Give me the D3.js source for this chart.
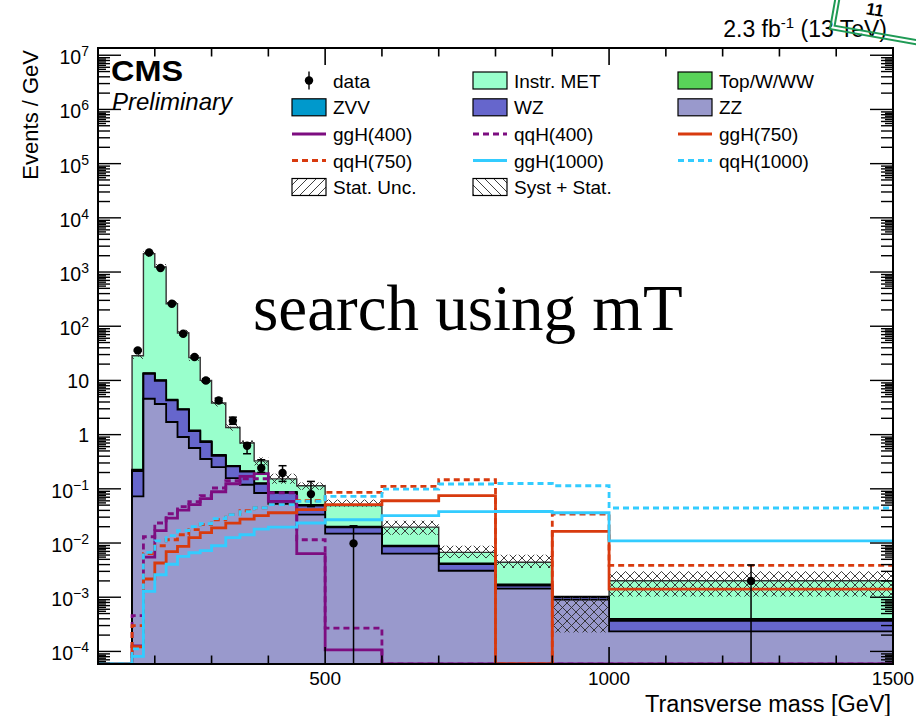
<!DOCTYPE html>
<html>
<head>
<meta charset="utf-8">
<script src="https://cdn.jsdelivr.net/npm/d3@7"></script>
<style>
  html, body { margin: 0; padding: 0; background: #fff; }
  svg { display: block; font-family: "Liberation Sans", Arial, Helvetica, sans-serif; }
</style>
</head>
<body>
<svg id="chart" width="916" height="716"></svg>
<script>
// ---- binning (GeV) ----
const binEdges = [160, 180, 200, 220, 240, 260, 280, 300, 325, 350, 375, 400, 450, 500, 600, 700, 800, 900, 1000, 1500];

// ---- stacked backgrounds, events / GeV (bottom to top) ----
const zz       = [0.0724, 4.59, 3.67, 1.71, 0.904, 0.566, 0.355, 0.252, 0.158, 0.119, 0.0838, 0.0531, 0.0333, 0.0149, 0.00635, 0.00308, 0.00144, 0.0009, 0.000234];
const wz       = [0.139, 8.7, 6.2, 2.57, 1.98, 0.59, 0.375, 0.156, 0.101, 0.088, 0.040, 0.0316, 0.0155, 0.0045, 0.0023, 0.001, 0.0002, 0.0001, 0.000134];
const zvv      = [0.002, 0.05, 0.04, 0.02, 0.012, 0.006, 0.004, 0.003, 0.002, 0.0015, 0.001, 0.0008, 0.0005, 0.0002, 0.0001, 0.00005, 0.00003, 0.00001, 0.00001];
const topWWW   = [0.012, 0.3, 0.25, 0.1, 0.05, 0.03, 0.02, 0.01, 0.005, 0.004, 0.003, 0.002, 0.001, 0.0005, 0.0002, 0.0001, 0.00005, 0.00001, 0.00002];
const instrMET = [28.37, 2164, 1226, 255.6, 72.1, 25.3, 9.25, 3.41, 1.09, 0.49, 0.20, 0.065, 0.064, 0.029, 0.0107, 0.0025, 0.0027, 0, 0.00161];

// ---- observed data ----
const dataVal = [35.8, 2300, 1186, 260, 72.8, 27, 10, 4.27, 1.80, 0.624, 0.242, 0.196, 0.080, 0.00984, 0, 0, 0, 0, 0.002];
const dataLo  = [34.5, 2270, 1165, 251, 69, 25.5, 9.3, 3.9, 1.55, 0.444, 0.201, 0.137, 0.047, 0, 0, 0, 0, 0, 0];
const dataHi  = [37.2, 2330, 1210, 270, 77, 28.5, 10.7, 4.7, 2.1, 0.70, 0.344, 0.267, 0.137, 0.0208, 0, 0, 0, 0, 0.00393];

// ---- uncertainty bands ----
const statLo = [27.5, 2120, 1200, 252, 72.5, 25.7, 9.7, 3.7, 1.31, 0.62, 0.27, 0.124, 0.096, 0.0468, 0.0142, 0.00528, 0.00346, 0.000224, 0.00103];
const statHi = [29.7, 2240, 1270, 268, 77.5, 27.3, 10.3, 3.95, 1.41, 0.78, 0.38, 0.19, 0.131, 0.0629, 0.0258, 0.00891, 0.00608, 0.00102, 0.00299];
const systLo = [25, 1900, 1080, 225, 65, 23, 8.7, 3.3, 1.18, 0.62, 0.27, 0.124, 0.096, 0.0468, 0.0142, 0.00528, 0.00346, 0.000224, 0.00103];
const systHi = [33, 2500, 1400, 300, 86, 30.5, 11.5, 4.4, 1.56, 0.78, 0.38, 0.19, 0.131, 0.0629, 0.0258, 0.00891, 0.00608, 0.00102, 0.00299];

// ---- signal hypotheses ----
const ggH400  = [1.27e-4, 0.00547, 0.01687, 0.0289, 0.0403, 0.0509, 0.0657, 0.0883, 0.124, 0.169, 0.190, 0.0586, 0.00635, 1.07e-4, 0, 0, 0, 0, 0];
const qqH400  = [4.56e-4, 0.01306, 0.0234, 0.0347, 0.0468, 0.0578, 0.0746, 0.1035, 0.141, 0.1535, 0.1535, 0.0847, 0.0115, 2.7e-4, 0, 0, 0, 0, 0];
const ggH750  = [1.22e-4, 0.00217, 0.00428, 0.00692, 0.00865, 0.01253, 0.0155, 0.0191, 0.0232, 0.0275, 0.0319, 0.0362, 0.0412, 0.0509, 0.0603, 0.0746, 0, 0.01637, 0.00141];
const qqH750  = [2.98e-4, 0.00635, 0.00891, 0.0115, 0.0142, 0.0176, 0.0218, 0.0269, 0.0333, 0.0394, 0.0448, 0.0509, 0.0603, 0.0859, 0.1107, 0.147, 0, 0.0343, 0.00387];
const ggH1000 = [8.09e-5, 0.00128, 0.0026, 0.00406, 0.00566, 0.00662, 0.00721, 0.00891, 0.01253, 0.0142, 0.0181, 0.0197, 0.0234, 0.0269, 0.0319, 0.0378, 0.0382, 0.0362, 0.0110];
const qqH1000 = [1.11e-4, 0.0067, 0.0110, 0.01364, 0.01687, 0.0200, 0.0227, 0.0281, 0.0333, 0.0378, 0.0448, 0.0509, 0.0586, 0.0724, 0.0991, 0.1227, 0.1254, 0.114, 0.0443];

// ---- axes ----
const xDomain = [100, 1500];
const yDomain = [5.86e-5, 1.36e7];
const xTickLabels = [500, 1000, 1500];
const yTickExponents = [-4, -3, -2, -1, 0, 1, 2, 3, 4, 5, 6, 7];

// ---------------------------------------------------------------
const plot = { left: 98, right: 893, top: 48, bottom: 664 };
const nBins = binEdges.length - 1;

const x = d3.scaleLinear().domain(xDomain).range([plot.left, plot.right]);
const y = d3.scaleLog().domain(yDomain).range([plot.bottom, plot.top]);
const yc = v => y(Math.max(v, yDomain[0]));

const colors = {
  zz: "#9999cc", wz: "#6666cc", zvv: "#0099cc", top: "#59d359", met: "#99ffcc",
  purple: "#7d0d80", orange: "#d83a0e", cyan: "#33ccff"
};

const svg = d3.select("#chart");
const defs = svg.append("defs");
defs.append("clipPath").attr("id", "plotClip")
  .append("rect").attr("x", plot.left).attr("y", plot.top)
  .attr("width", plot.right - plot.left).attr("height", plot.bottom - plot.top);

// hatch fills: forward "///" for stat, backward "\\\" for syst+stat
const hs = 9;
defs.append("pattern").attr("id", "hatchFwd").attr("patternUnits", "userSpaceOnUse")
  .attr("width", hs).attr("height", hs)
  .append("path").attr("d", `M-2,2L2,-2M0,${hs}L${hs},0M${hs-2},${hs+2}L${hs+2},${hs-2}`)
  .attr("stroke", "#2a2a2a").attr("stroke-width", 0.9).attr("fill", "none");
defs.append("pattern").attr("id", "hatchBwd").attr("patternUnits", "userSpaceOnUse")
  .attr("width", hs).attr("height", hs)
  .append("path").attr("d", `M-2,${hs-2}L2,${hs+2}M0,0L${hs},${hs}M${hs-2},-2L${hs+2},2`)
  .attr("stroke", "#2a2a2a").attr("stroke-width", 0.9).attr("fill", "none");

const g = svg.append("g").attr("clip-path", "url(#plotClip)");

// step points: one per bin plus a closing point at the last edge
function stepPoints(vals) {
  const pts = vals.map((v, i) => [binEdges[i], v]);
  pts.push([binEdges[nBins], vals[nBins - 1]]);
  return pts;
}

// ---- stacked background ----
const layers = [
  { vals: zz, fill: colors.zz },
  { vals: wz, fill: colors.wz },
  { vals: zvv, fill: colors.zvv },
  { vals: topWWW, fill: colors.top },
  { vals: instrMET, fill: colors.met }
];
let running = new Array(nBins).fill(0);
layers.forEach(l => {
  running = running.map((c, i) => c + l.vals[i]);
  l.cum = running.slice();
});

const stackArea = d3.area()
  .x(d => x(d[0]))
  .y0(plot.bottom)
  .y1(d => yc(d[1]))
  .curve(d3.curveStepAfter);

layers.slice().reverse().forEach((l, idx) => {
  g.append("path")
    .attr("d", stackArea(stepPoints(l.cum)))
    .attr("fill", l.fill)
    .attr("stroke", idx === 0 ? "#333" : "#000")
    .attr("stroke-width", idx === 0 ? 1.4 : 1.8)
    .attr("stroke-linejoin", "miter");
});

// ---- uncertainty bands ----
function band(lo, hi, pattern) {
  g.append("g").selectAll("rect")
    .data(d3.range(nBins).filter(i => hi[i] > 0))
    .join("rect")
    .attr("x", i => x(binEdges[i]))
    .attr("width", i => x(binEdges[i + 1]) - x(binEdges[i]))
    .attr("y", i => yc(hi[i]))
    .attr("height", i => yc(lo[i]) - yc(hi[i]))
    .attr("fill", `url(#${pattern})`);
}
band(systLo, systHi, "hatchBwd");
band(statLo, statHi, "hatchFwd");

// ---- signal lines ----
const signals = [
  { vals: ggH400, color: colors.purple, dash: null },
  { vals: qqH400, color: colors.purple, dash: "6,4" },
  { vals: ggH750, color: colors.orange, dash: null },
  { vals: qqH750, color: colors.orange, dash: "6,4" },
  { vals: ggH1000, color: colors.cyan, dash: null },
  { vals: qqH1000, color: colors.cyan, dash: "6,4" }
];
const sigLine = d3.line()
  .x(d => x(d[0]))
  .y(d => yc(d[1]))
  .curve(d3.curveStepAfter);
signals.forEach(s => {
  const pts = [[xDomain[0], 0]].concat(stepPoints(s.vals));
  g.append("path")
    .attr("d", sigLine(pts))
    .attr("fill", "none")
    .attr("stroke", s.color)
    .attr("stroke-width", 2.8)
    .attr("stroke-dasharray", s.dash);
});

// ---- data points ----
const centers = d3.range(nBins).map(i => (binEdges[i] + binEdges[i + 1]) / 2);
const dataIdx = d3.range(nBins).filter(i => dataVal[i] > 0);
const dg = g.append("g");
dataIdx.forEach(i => {
  const cx = x(centers[i]);
  const top = yc(dataHi[i]);
  const bot = yc(dataLo[i]);
  dg.append("line").attr("x1", cx).attr("x2", cx).attr("y1", top).attr("y2", bot)
    .attr("stroke", "#000").attr("stroke-width", 1.5);
  [top, bot].forEach(yy => {
    if (yy < plot.bottom - 1) {
      dg.append("line").attr("x1", cx - 4).attr("x2", cx + 4).attr("y1", yy).attr("y2", yy)
        .attr("stroke", "#000").attr("stroke-width", 1.5);
    }
  });
  dg.append("circle").attr("cx", cx).attr("cy", yc(dataVal[i])).attr("r", 4.2).attr("fill", "#000");
});

// ---- frame and ticks ----
const axes = svg.append("g").attr("stroke", "#000").attr("fill", "none");
axes.append("rect").attr("x", plot.left).attr("y", plot.top)
  .attr("width", plot.right - plot.left).attr("height", plot.bottom - plot.top)
  .attr("stroke-width", 2);

const xMinor = d3.range(200, 1500, 100);
xMinor.forEach(v => {
  const len = xTickLabels.includes(v) ? 17 : 8.5;
  axes.append("line").attr("x1", x(v)).attr("x2", x(v)).attr("y1", plot.bottom).attr("y2", plot.bottom - len).attr("stroke-width", 1.6);
  axes.append("line").attr("x1", x(v)).attr("x2", x(v)).attr("y1", plot.top).attr("y2", plot.top + len).attr("stroke-width", 1.6);
});

const yTicks = [];
for (let e = -5; e <= 7; e++) {
  yTicks.push({ v: Math.pow(10, e), len: 23 });
  [2, 3, 4, 5, 6, 7, 8, 9].forEach(k => yTicks.push({ v: k * Math.pow(10, e), len: 12 }));
  [5.5, 6.5, 7.5, 8.5].forEach(k => yTicks.push({ v: k * Math.pow(10, e), len: 8 }));
}
yTicks.filter(t => t.v >= yDomain[0] && t.v <= yDomain[1]).forEach(t => {
  const yy = y(t.v);
  axes.append("line").attr("x1", plot.left).attr("x2", plot.left + t.len).attr("y1", yy).attr("y2", yy).attr("stroke-width", 1.4);
  axes.append("line").attr("x1", plot.right).attr("x2", plot.right - t.len).attr("y1", yy).attr("y2", yy).attr("stroke-width", 1.4);
});

// ---- tick labels ----
const labels = svg.append("g").attr("fill", "#000");
xTickLabels.forEach(v => {
  labels.append("text").attr("x", x(v)).attr("y", 685).attr("text-anchor", "middle")
    .attr("font-size", 19).text(v);
});
yTickExponents.forEach(e => {
  const yy = y(Math.pow(10, e));
  const t = labels.append("text").attr("x", 89).attr("text-anchor", "end").attr("font-size", 19.5);
  if (e === 0 || e === 1) {
    t.attr("y", yy + 7.5).text(e === 0 ? "1" : "10");
  } else {
    t.attr("y", yy + 9);
    t.append("tspan").text("10");
    t.append("tspan").attr("font-size", 14).attr("dy", -8)
      .text(e < 0 ? "\u2212" + (-e) : String(e));
  }
});

// axis titles
labels.append("text").attr("x", 891).attr("y", 712).attr("text-anchor", "end")
  .attr("font-size", 23.5).text("Transverse mass [GeV]");
labels.append("text").attr("transform", "translate(38,50) rotate(-90)").attr("text-anchor", "end")
  .attr("font-size", 22).text("Events / GeV");

// header texts
labels.append("text").attr("x", 111).attr("y", 81).attr("font-size", 30).attr("font-weight", "bold")
  .attr("textLength", 72).attr("lengthAdjust", "spacingAndGlyphs").text("CMS");
labels.append("text").attr("x", 112).attr("y", 110).attr("font-size", 24).attr("font-style", "italic")
  .text("Preliminary");
const lumi = labels.append("text").attr("x", 887).attr("y", 37).attr("text-anchor", "end").attr("font-size", 23);
lumi.append("tspan").text("2.3 fb");
lumi.append("tspan").attr("font-size", 15).attr("dy", -9).text("-1");
lumi.append("tspan").attr("dy", 9).text(" (13 TeV)");

// ---- legend ----
const legendItems = [
  { label: "data", kind: "data" },
  { label: "Instr. MET", kind: "box", fill: colors.met },
  { label: "Top/W/WW", kind: "box", fill: colors.top },
  { label: "ZVV", kind: "box", fill: colors.zvv },
  { label: "WZ", kind: "box", fill: colors.wz },
  { label: "ZZ", kind: "box", fill: colors.zz },
  { label: "ggH(400)", kind: "line", color: colors.purple },
  { label: "qqH(400)", kind: "line", color: colors.purple, dash: "6,4" },
  { label: "ggH(750)", kind: "line", color: colors.orange },
  { label: "qqH(750)", kind: "line", color: colors.orange, dash: "6,4" },
  { label: "ggH(1000)", kind: "line", color: colors.cyan },
  { label: "qqH(1000)", kind: "line", color: colors.cyan, dash: "6,4" },
  { label: "Stat. Unc.", kind: "box", fill: "url(#hatchFwd)" },
  { label: "Syst + Stat.", kind: "box", fill: "url(#hatchBwd)" }
];
const legCols = [292, 473, 678];
const legRows = [80.5, 107.3, 134, 160.5, 187];
const boxW = 34, boxH = 17;
const leg = svg.append("g");
legendItems.forEach((it, i) => {
  const bx = legCols[i % 3], cy = legRows[Math.floor(i / 3)];
  if (it.kind === "box") {
    leg.append("rect").attr("x", bx).attr("y", cy - boxH / 2).attr("width", boxW).attr("height", boxH)
      .attr("fill", it.fill).attr("stroke", "#000").attr("stroke-width", 1.2);
  } else if (it.kind === "line") {
    leg.append("line").attr("x1", bx).attr("x2", bx + boxW).attr("y1", cy).attr("y2", cy)
      .attr("stroke", it.color).attr("stroke-width", 2.8).attr("stroke-dasharray", it.dash || null);
  } else {
    leg.append("line").attr("x1", bx + boxW / 2).attr("x2", bx + boxW / 2).attr("y1", cy - 9).attr("y2", cy + 9)
      .attr("stroke", "#000").attr("stroke-width", 1.4);
    leg.append("circle").attr("cx", bx + boxW / 2).attr("cy", cy).attr("r", 4.2).attr("fill", "#000");
  }
  leg.append("text").attr("x", bx + 41).attr("y", cy + 7).attr("font-size", 19).text(it.label);
});

// ---- annotation ----
svg.append("text").attr("x", 253).attr("y", 330)
  .attr("font-family", "'Liberation Serif', 'Times New Roman', serif")
  .attr("font-size", 65).attr("fill", "#000").text("search using mT");

// stamp in the top-right corner
const stamp = svg.append("g").attr("transform", "translate(830,29) rotate(10)");
stamp.append("rect").attr("x", 0).attr("y", -160).attr("width", 260).attr("height", 160)
  .attr("fill", "none").attr("stroke", "#1f9a55").attr("stroke-width", 2);
stamp.append("rect").attr("x", 4).attr("y", -156).attr("width", 252).attr("height", 152)
  .attr("fill", "none").attr("stroke", "#1f9a55").attr("stroke-width", 2);
stamp.append("text").attr("x", 32).attr("y", -21).attr("font-size", 17).attr("font-weight", "bold")
  .attr("fill", "#000").text("11");
</script>
</body>
</html>
